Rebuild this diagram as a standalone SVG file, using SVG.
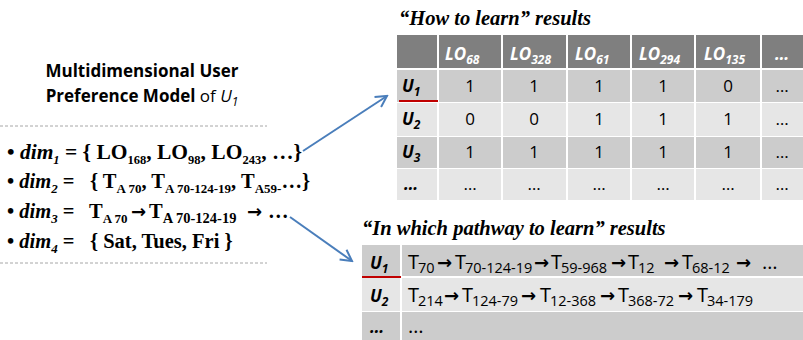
<svg xmlns="http://www.w3.org/2000/svg" width="803" height="340" viewBox="0 0 803 340">
<defs>
<style>
.serif{font-family:"Liberation Serif","Times New Roman",serif;font-weight:bold;font-size:20.5px;fill:#000}
.bi{font-style:italic}
.sub{font-size:13px}
.sub2{font-size:14.5px}
.sarr{font-family:"DejaVu Sans",sans-serif;font-weight:bold;font-size:18px}
.ttl{font-family:"Liberation Serif","Times New Roman",serif;font-weight:bold;font-style:italic;font-size:20.5px;fill:#000}
.hdr{font-family:"Open Sans","Noto Sans",sans-serif;font-size:17px;font-weight:bold;font-style:italic;fill:#fff}
.lbl{font-family:"Open Sans","Noto Sans",sans-serif;font-size:17px;font-weight:bold;font-style:italic;fill:#000}
.val{font-family:"Open Sans","Noto Sans",sans-serif;font-size:17px;fill:#000;text-anchor:middle}
.path{font-family:"Open Sans","Noto Sans",sans-serif;font-size:20px;fill:#000}
.psub{font-size:14.5px}
.arr{font-family:"DejaVu Sans",sans-serif;font-weight:bold;font-size:18px}
.dash{stroke:#a6a6a6;stroke-width:1;stroke-dasharray:3,2}
.conn{stroke:#4a7ebb;stroke-width:2;fill:none}
.red{stroke:#c00000;stroke-width:2}
.wl{stroke:#fff;stroke-width:2}
</style>
<marker id="ah" markerUnits="userSpaceOnUse" markerWidth="14" markerHeight="14" viewBox="0 0 14 14" refX="12" refY="7" orient="auto">
<path d="M1,1 L12,7 L1,13" fill="none" stroke="#4a7ebb" stroke-width="2"/>
</marker>
</defs>
<rect width="803" height="340" fill="#fff"/>

<g id="model">
<text x="142" y="77" text-anchor="middle" style="font-family:'Open Sans','Noto Sans',sans-serif;font-weight:bold;font-size:17px">Multidimensional User</text>
<text x="142" y="102" text-anchor="middle" style="font-family:'Open Sans','Noto Sans',sans-serif;font-size:17px"><tspan font-weight="bold">Preference Model</tspan> of <tspan font-style="italic">U</tspan><tspan font-style="italic" font-size="12" dy="4">1</tspan></text>
<line class="dash" x1="0" y1="126" x2="267" y2="126"/>
<line class="dash" x1="0" y1="263" x2="267" y2="263"/>
<text class="serif" x="7" y="159" style="font-size:21.5px">• <tspan class="bi">dim</tspan><tspan class="bi" font-size="12.5" dy="5">1</tspan><tspan dy="-5"> = { LO</tspan><tspan font-size="12.5" dy="5">168</tspan><tspan dy="-5">, LO</tspan><tspan font-size="12.5" dy="5">98</tspan><tspan dy="-5">, LO</tspan><tspan font-size="12.5" dy="5">243</tspan><tspan dy="-5">, …}</tspan></text>
<text class="serif" x="7" y="188">• <tspan class="bi">dim</tspan><tspan class="bi sub" dy="5">2</tspan><tspan dy="-5"> =</tspan><tspan x="90">{ T</tspan><tspan class="sub" dy="5">A 70</tspan><tspan dy="-5">, T</tspan><tspan class="sub" dy="5">A 70-124-19</tspan><tspan dy="-5">, T</tspan><tspan class="sub" dy="5">A59-</tspan><tspan dy="-5">…}</tspan></text>
<text class="serif" x="7" y="218">• <tspan class="bi">dim</tspan><tspan class="bi sub" dy="5">3</tspan><tspan dy="-5"> =</tspan><tspan x="89">T</tspan><tspan class="sub" dy="5">A 70</tspan><tspan class="sarr" x="131" dy="-5">→</tspan><tspan x="149">T</tspan><tspan class="sub2" dy="5">A 70-124-19</tspan><tspan class="sarr" x="247" dy="-5">→</tspan><tspan x="268">…</tspan></text>
<text class="serif" x="7" y="248">• <tspan class="bi">dim</tspan><tspan class="bi sub" dy="5">4</tspan><tspan dy="-5"> =</tspan><tspan x="90">{ Sat, Tues, Fri }</tspan></text>
</g>

<g id="how-table">
<text class="ttl" x="399" y="25">“How to learn” results</text>
<rect x="397" y="35" width="406" height="33" fill="#7f7f7f"/>
<rect x="397" y="70" width="406" height="32" fill="#cccccc"/>
<rect x="397" y="103" width="406" height="33" fill="#e6e6e6"/>
<rect x="397" y="137" width="406" height="31" fill="#cccccc"/>
<rect x="397" y="169" width="406" height="31" fill="#e6e6e6"/>
<g class="wl">
<line x1="438" y1="35" x2="438" y2="200"/>
<line x1="502" y1="35" x2="502" y2="200"/>
<line x1="567" y1="35" x2="567" y2="200"/>
<line x1="631" y1="35" x2="631" y2="200"/>
<line x1="695" y1="35" x2="695" y2="200"/>
<line x1="761" y1="35" x2="761" y2="200"/>
</g>
<line class="red" x1="399" y1="101" x2="438" y2="101"/>
<text class="hdr" x="445" y="60">LO<tspan font-size="12" dy="4">68</tspan></text>
<text class="hdr" x="510" y="60">LO<tspan font-size="12" dy="4">328</tspan></text>
<text class="hdr" x="575" y="60">LO<tspan font-size="12" dy="4">61</tspan></text>
<text class="hdr" x="639" y="60">LO<tspan font-size="12" dy="4">294</tspan></text>
<text class="hdr" x="704" y="60">LO<tspan font-size="12" dy="4">135</tspan></text>
<text class="hdr" x="775" y="60">…</text>
<text class="lbl" x="402" y="92">U<tspan font-size="12" dy="4">1</tspan></text>
<text class="lbl" x="402" y="125">U<tspan font-size="12" dy="4">2</tspan></text>
<text class="lbl" x="402" y="158">U<tspan font-size="12" dy="4">3</tspan></text>
<text class="lbl" x="404" y="190">…</text>
<text class="val" x="470" y="92">1</text><text class="val" x="534" y="92">1</text><text class="val" x="599" y="92">1</text><text class="val" x="663" y="92">1</text><text class="val" x="728" y="92">0</text><text class="val" x="782" y="92">…</text>
<text class="val" x="470" y="125">0</text><text class="val" x="534" y="125">0</text><text class="val" x="599" y="125">1</text><text class="val" x="663" y="125">1</text><text class="val" x="728" y="125">1</text><text class="val" x="782" y="125">…</text>
<text class="val" x="470" y="158">1</text><text class="val" x="534" y="158">1</text><text class="val" x="599" y="158">1</text><text class="val" x="663" y="158">1</text><text class="val" x="728" y="158">1</text><text class="val" x="782" y="158">…</text>
<text class="val" x="470" y="190">…</text><text class="val" x="534" y="190">…</text><text class="val" x="599" y="190">…</text><text class="val" x="663" y="190">…</text><text class="val" x="728" y="190">…</text><text class="val" x="782" y="190">…</text>
</g>

<g id="pathway-table">
<text class="ttl" x="362" y="235">“In which pathway to learn” results</text>
<rect x="362" y="245" width="441" height="31" fill="#cccccc"/>
<rect x="362" y="278" width="441" height="33" fill="#e6e6e6"/>
<rect x="362" y="312" width="441" height="28" fill="#cccccc"/>
<line class="wl" x1="401" y1="245" x2="401" y2="340"/>
<line class="red" x1="362" y1="277" x2="401" y2="277"/>
<text class="lbl" x="370" y="269">U<tspan font-size="12" dy="4">1</tspan></text>
<text class="lbl" x="370" y="302">U<tspan font-size="12" dy="4">2</tspan></text>
<text class="lbl" x="370" y="333">…</text>
<text class="path" x="408" y="333">…</text>
<text class="path" y="269"><tspan x="408">T</tspan><tspan class="psub" x="418" y="273">70</tspan><tspan class="arr" x="437" y="269">→</tspan><tspan x="455">T</tspan><tspan class="psub" x="465" y="273">70-124-19</tspan><tspan class="arr" x="534" y="269">→</tspan><tspan x="551">T</tspan><tspan class="psub" x="561" y="273">59-968</tspan><tspan class="arr" x="611" y="269">→</tspan><tspan x="628">T</tspan><tspan class="psub" x="638" y="273">12</tspan><tspan class="arr" x="664" y="269">→</tspan><tspan x="682">T</tspan><tspan class="psub" x="692" y="273">68-12</tspan><tspan class="arr" x="736" y="269">→</tspan><tspan x="762">…</tspan></text>
<text class="path" y="302"><tspan x="408">T</tspan><tspan class="psub" x="418" y="306">214</tspan><tspan class="arr" x="444" y="302">→</tspan><tspan x="462">T</tspan><tspan class="psub" x="472" y="306">124-79</tspan><tspan class="arr" x="521" y="302">→</tspan><tspan x="540">T</tspan><tspan class="psub" x="550" y="306">12-368</tspan><tspan class="arr" x="600" y="302">→</tspan><tspan x="618">T</tspan><tspan class="psub" x="628" y="306">368-72</tspan><tspan class="arr" x="678" y="302">→</tspan><tspan x="697">T</tspan><tspan class="psub" x="707" y="306">34-179</tspan></text>
</g>

<g id="connectors">
<path class="conn" d="M303,151 L387,96" marker-end="url(#ah)"/>
<path class="conn" d="M290,217 L352,261" marker-end="url(#ah)"/>
</g>
</svg>
